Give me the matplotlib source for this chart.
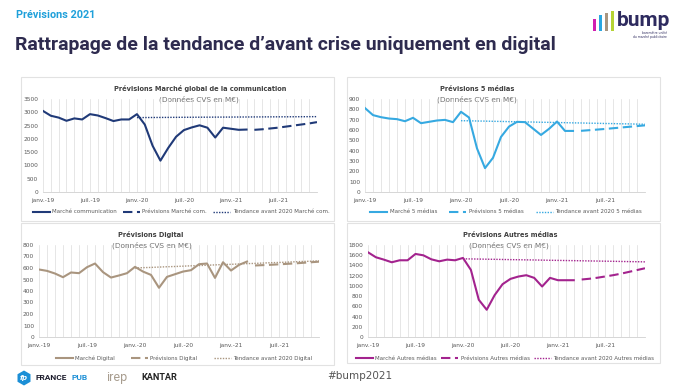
import numpy as np
import matplotlib.pyplot as plt
from matplotlib.patches import Rectangle, RegularPolygon

W, H = 689, 390

# x axis: months janv.-19 .. déc.-21
tick_labels = ['janv.-19', 'juil.-19', 'janv.-20', 'juil.-20', 'janv.-21', 'juil.-21']

# Marché global de la communication
com_actual = [3050, 2870, 2800, 2680, 2770, 2730, 2930, 2880, 2780, 2670, 2730, 2730,
              2930, 2540, 1740, 1180, 1660, 2080, 2330, 2430, 2510, 2420, 2050, 2420,
              2380, 2340, 2350]
com_forecast = [2340, 2360, 2390, 2420, 2460, 2500, 2540, 2580, 2630]
com_trend = [2800, 2802, 2804, 2806, 2808, 2810, 2812, 2813, 2815, 2816, 2818, 2819,
             2820, 2822, 2823, 2825, 2826, 2828, 2829, 2830, 2832, 2833, 2835, 2836]

# 5 médias
m5_actual = [812, 744, 724, 711, 705, 685, 718, 666, 679, 692, 698, 676,
             776, 721, 422, 231, 331, 533, 633, 679, 676, 614, 552, 611,
             682, 591, 591]
m5_forecast = [592, 598, 604, 610, 617, 624, 631, 638, 645]
m5_trend = [690, 689, 687, 686, 684, 683, 681, 680, 678, 677, 675, 674,
            672, 671, 669, 668, 666, 665, 663, 662, 660, 659, 657, 656]

# Digital
dig_actual = [587, 575, 552, 520, 561, 555, 607, 639, 564, 517, 535, 555,
              610, 569, 540, 428, 523, 546, 569, 581, 633, 639, 514, 650,
              578, 627, 656]
dig_forecast = [622, 625, 628, 632, 636, 640, 645, 650, 655]
dig_trend = [600, 603, 605, 608, 611, 613, 616, 619, 621, 624, 627, 630,
             632, 635, 638, 640, 643, 646, 648, 651, 654, 657, 659, 662]

# Autres médias
aut_actual = [1657, 1560, 1514, 1462, 1501, 1501, 1625, 1598, 1520, 1481, 1514, 1501,
              1547, 1313, 728, 533, 819, 1033, 1137, 1183, 1209, 1157, 988, 1157,
              1111, 1111, 1111]
aut_forecast = [1125, 1140, 1160, 1185, 1210, 1240, 1275, 1310, 1345]
aut_trend = [1530, 1527, 1525, 1522, 1520, 1517, 1514, 1512, 1509, 1507, 1504, 1501,
             1499, 1496, 1494, 1491, 1488, 1486, 1483, 1481, 1478, 1475, 1473, 1470]


def fx(p):
    return p / W


def fy(p):
    return 1 - p / H


fig = plt.figure(figsize=(W / 100, H / 100), dpi=100)
fig.patch.set_facecolor('white')

# overlay in pixel units for boxes, header and logos
ov = fig.add_axes([0, 0, 1, 1])
ov.set_xlim(0, W)
ov.set_ylim(H, 0)
ov.axis('off')

GRID = '#dcdcdc'
TXT = '#595959'


def panel(box, rect, title, tpos, spos, actual, forecast, trend, color, ymax, ystep,
          names, lpos, cs):
    x0, y0, x1, y1 = box
    ov.add_patch(Rectangle((x0, y0), x1 - x0, y1 - y0, fill=False,
                           ec='#e2e2e2', lw=0.8))
    l, t, r, b = rect
    ax = fig.add_axes([fx(l), fy(b), (r - l) / W, (b - t) / H])
    n = len(actual)
    h1, = ax.plot(range(n), actual, color=color, lw=1.5, solid_joinstyle='round')
    h2, = ax.plot(range(n, n + len(forecast)), forecast, color=color, lw=1.5,
                  dashes=(4.5, 2.2))
    h3, = ax.plot(range(12, 12 + len(trend)), trend, color=color, lw=1.0,
                  dashes=(1, 1))
    ax.set_xlim(0, 35)
    ax.set_ylim(0, ymax)
    ax.set_xticks(range(0, 36, 6), tick_labels)
    ax.set_xticks(range(36), minor=True)
    ax.set_yticks(np.arange(0, ymax + 1, ystep))
    ax.grid(axis='x', which='both', color=GRID, lw=0.5)
    ax.tick_params(axis='both', which='both', length=0, labelsize=4.2,
                   colors=TXT)
    ax.tick_params(axis='x', pad=4.5)
    ax.tick_params(axis='y', pad=3.5)
    for s in ['top', 'right', 'left']:
        ax.spines[s].set_visible(False)
    ax.spines['bottom'].set_color('#d0d0d0')
    ax.spines['bottom'].set_linewidth(0.6)
    ax.set_facecolor('none')

    ov.text(tpos[0], tpos[1], title, ha='center', va='center',
            fontsize=4.8, weight='bold', color='#404040')
    ov.text(spos[0], spos[1], '(Données CVS en M€)', ha='center',
            va='center', fontsize=5.3, color='#707070')
    ax.legend([h1, h2, h3], names, loc='center',
              bbox_to_anchor=(fx(lpos[0]), fy(lpos[1])),
              bbox_transform=fig.transFigure, ncol=3, frameon=False,
              fontsize=4.0, handlelength=3.1, handletextpad=0.4,
              columnspacing=cs, labelcolor=TXT, borderpad=0)


panel((21, 77, 334, 221), (43, 99, 317, 192),
      'Prévisions Marché global de la communication', (200, 89), (199, 99),
      com_actual, com_forecast, com_trend, '#203a78', 3500, 500,
      ['Marché communication', 'Prévisions Marché com.',
       'Tendance avant 2020 Marché com.'], (181, 212), 1.1)

panel((347, 77, 660, 221), (365, 99, 645, 192),
      'Prévisions 5 médias', (477, 89), (477, 99),
      m5_actual, m5_forecast, m5_trend, '#36a9e1', 900, 100,
      ['Marché 5 médias', 'Prévisions 5 médias',
       'Tendance avant 2020 5 médias'], (506, 212), 2.2)

panel((21, 223, 334, 365), (39, 245, 319, 337),
      'Prévisions Digital', (151, 235), (152, 245),
      dig_actual, dig_forecast, dig_trend, '#a9957f', 800, 100,
      ['Marché Digital', 'Prévisions Digital',
       'Tendance avant 2020 Digital'], (184, 358), 2.9)

panel((347, 223, 660, 363), (368, 245, 645, 337),
      'Prévisions Autres médias', (510, 235), (509, 245),
      aut_actual, aut_forecast, aut_trend, '#a3238e', 1800, 200,
      ['Marché Autres médias', 'Prévisions Autres médias',
       'Tendance avant 2020 Autres médias'], (505, 358), 0.8)

# header
ov.text(16, 15, 'Prévisions 2021', ha='left', va='center',
        fontsize=7.8, weight='bold', color='#1fa0da', family='Roboto')
ov.text(15, 45, 'Rattrapage de la tendance d’avant crise uniquement en digital',
        ha='left', va='center', fontsize=14, weight='bold', color='#2e2b4f',
        family='Roboto')

# bump logo
for bx, top, c in [(593, 19, '#d01fb0'), (599, 15, '#2aa6e0'),
                   (605, 13, '#a89580'), (611, 11, '#b5d334')]:
    ov.add_patch(Rectangle((bx, top), 2.6, 31 - top, color=c, lw=0))
ov.text(617, 21, 'bump', ha='left', va='center', fontsize=15,
        weight='bold', color='#2e2b5f', family='Roboto')
ov.text(667, 33.5, 'baromètre unifié', ha='right', va='center',
        fontsize=2.2, color='#2e2b5f')
ov.text(667, 37, 'du marché publicitaire', ha='right', va='center',
        fontsize=2.2, color='#2e2b5f')

# footer
ov.add_patch(RegularPolygon((24, 378), 6, radius=7.5, color='#1c8fd6', lw=0))
ov.text(24, 378, 'fp', ha='center', va='center', fontsize=5,
        weight='bold', style='italic', color='white')
ov.text(35, 378, 'FRANCE', ha='left', va='center', fontsize=6.0,
        weight='bold', color='#1e1e2e', family='Roboto')
ov.text(71, 378, 'PUB', ha='left', va='center', fontsize=6.0,
        weight='bold', color='#1c8fd6', family='Roboto')
ov.text(106, 377, 'irep', ha='left', va='center', fontsize=9,
        color='#a89d8f', family='Roboto')
ov.text(141, 378, 'KANTAR', ha='left', va='center', fontsize=6.6,
        weight='bold', color='#222222', family='Roboto')
ov.text(327, 376, '#bump2021', ha='left', va='center', fontsize=7.5,
        color='#555555')

fig.savefig('out.png', dpi=100, facecolor='white')
